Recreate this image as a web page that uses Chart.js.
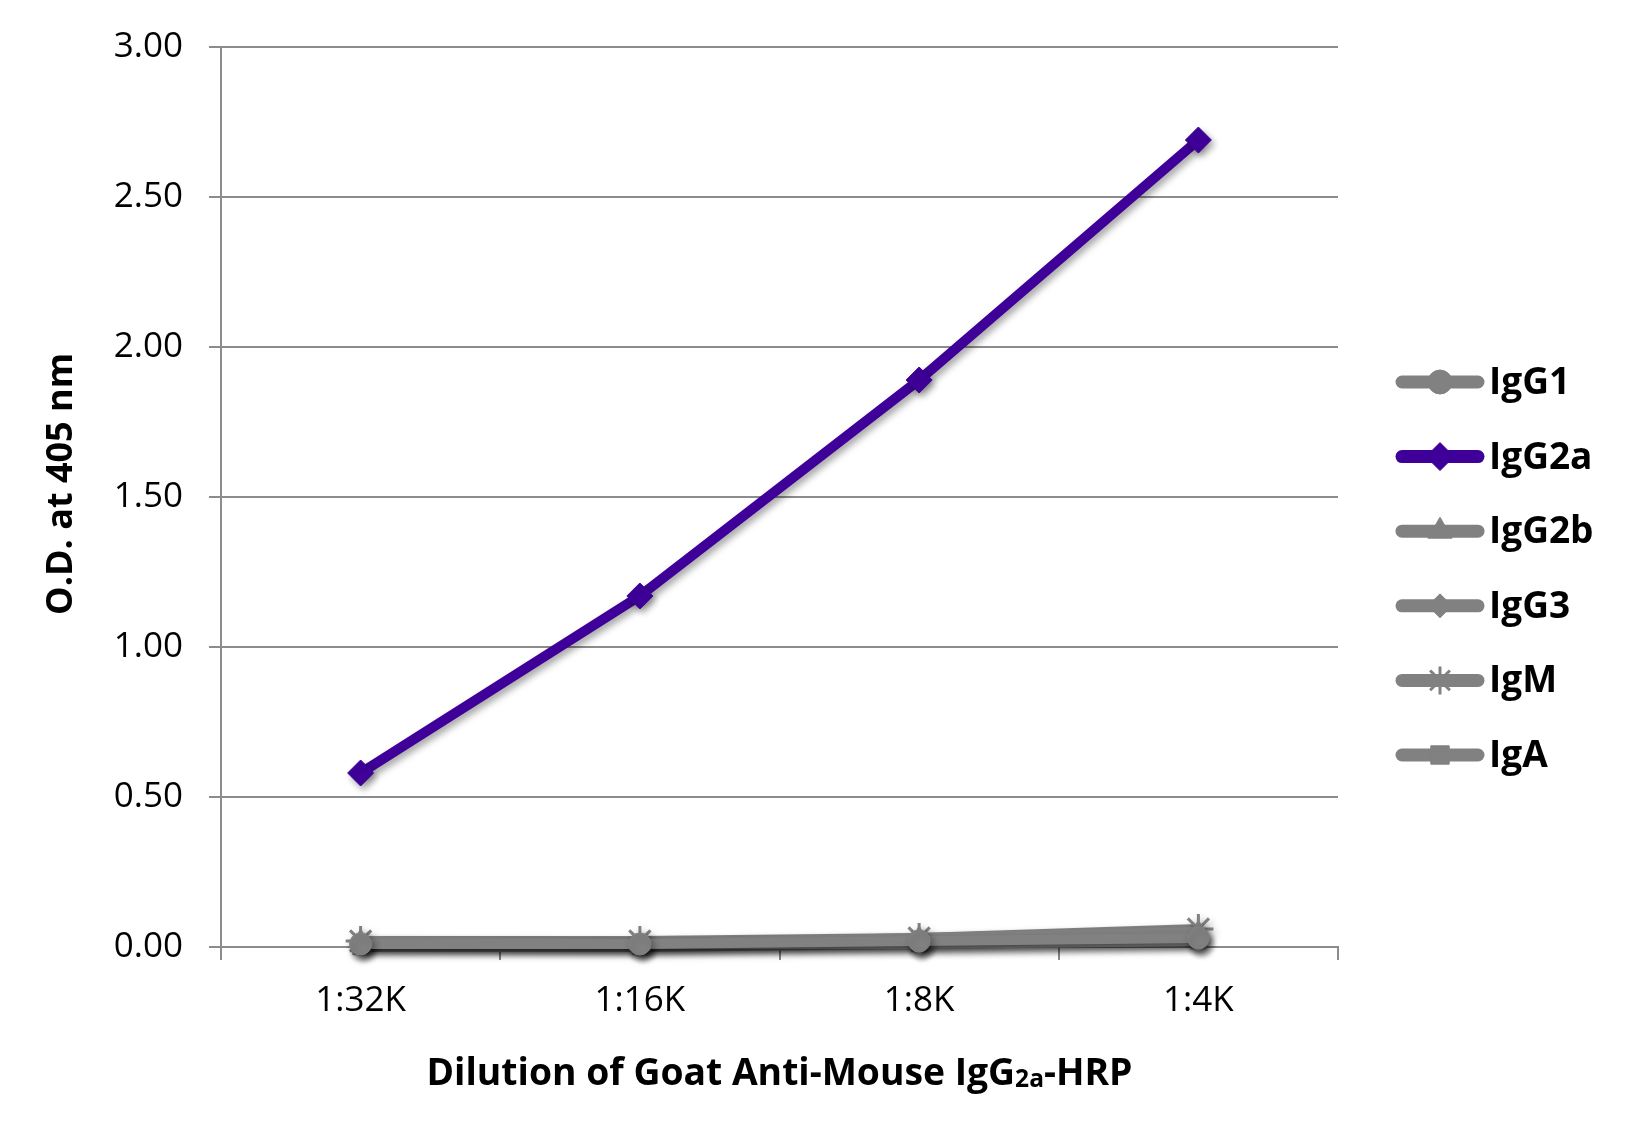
<!DOCTYPE html>
<html>
<head>
<meta charset="utf-8">
<title>Goat Anti-Mouse IgG2a-HRP</title>
<script src="https://cdn.jsdelivr.net/npm/chart.js@4.4.1/dist/chart.umd.min.js"></script>
<style>
  html, body { margin: 0; padding: 0; background: #fff; }
  #wrap { width: 1638px; height: 1134px; }
</style>
</head>
<body>
<div id="wrap"><canvas id="chart" width="1638" height="1134"></canvas></div>
<script>
// values
const dilutions = ['1:32K', '1:16K', '1:8K', '1:4K'];
const isotypes = ['IgG1', 'IgG2a', 'IgG2b', 'IgG3', 'IgM', 'IgA'];
const igG1 = [0.01, 0.01, 0.02, 0.03];
const igG2a = [0.58, 1.17, 1.89, 2.69];
const igG2b = [0.02, 0.01, 0.03, 0.05];
const igG3 = [0.01, 0.01, 0.01, 0.02];
const igM = [0.02, 0.02, 0.03, 0.06];
const igA = [0.00, 0.00, 0.01, 0.02];
const yTicks = [0, 0.5, 1, 1.5, 2, 2.5, 3];

const yTitle = 'O.D. at 405 nm';
const xTitleParts = ['Dilution of Goat Anti-Mouse IgG', '2a', '-HRP'];

const GRAY = '#818181';
const PURPLE = '#3f0099';
const AXIS = '#8c8c8c';
const FONT = '"Open Sans", "Noto Sans", sans-serif';

function series(label, data, color, style, radius) {
  return {
    label: label,
    data: data,
    borderColor: color,
    backgroundColor: color,
    borderWidth: 10,
    pointStyle: style,
    pointRadius: radius,
    pointHoverRadius: radius,
    pointBackgroundColor: color,
    pointBorderColor: color,
    pointBorderWidth: style === 'star' ? 3 : 1,
    tension: 0,
    clip: false
  };
}

// soft drop shadow behind lines and markers, as in the original
const dropShadow = {
  id: 'dropShadow',
  beforeDatasetsDraw(chart) {
    const c = chart.ctx;
    c.save();
    c.shadowColor = 'rgba(0,0,0,0.35)';
    c.shadowBlur = 7;
    c.shadowOffsetX = 3;
    c.shadowOffsetY = 4;
  },
  afterDatasetsDraw(chart) {
    chart.ctx.restore();
  }
};

// axis titles (x title has a subscript, so it is drawn by hand)
const axisTitles = {
  id: 'axisTitles',
  afterDraw(chart) {
    const ctx = chart.ctx;
    const area = chart.chartArea;

    ctx.save();
    ctx.fillStyle = '#000';
    ctx.translate(62, (area.top + area.bottom) / 2 - 13);
    ctx.rotate(-Math.PI / 2);
    ctx.font = 'bold 36px ' + FONT;
    ctx.textAlign = 'center';
    ctx.textBaseline = 'middle';
    ctx.fillText(yTitle, 0, 0);
    ctx.restore();

    const sizes = [38, 25, 38];
    const drops = [0, 2, 0];
    ctx.save();
    ctx.fillStyle = '#000';
    ctx.textBaseline = 'alphabetic';
    ctx.textAlign = 'left';
    let total = 0;
    const widths = xTitleParts.map((t, i) => {
      ctx.font = 'bold ' + sizes[i] + 'px ' + FONT;
      const w = ctx.measureText(t).width;
      total += w;
      return w;
    });
    const target = 706;
    const sx = Math.min(1, target / total);
    const cx = (area.left + area.right) / 2;
    ctx.translate(cx - total * sx / 2, 1085);
    ctx.scale(sx, 1);
    let x = 0;
    xTitleParts.forEach((t, i) => {
      ctx.font = 'bold ' + sizes[i] + 'px ' + FONT;
      ctx.fillText(t, x, drops[i]);
      x += widths[i];
    });
    ctx.restore();
  }
};

// legend on the right: thick line with the marker in the middle
const legendRadius = [12, 14, 14, 12, 14, 13];
const sideLegend = {
  id: 'sideLegend',
  afterDraw(chart) {
    const ctx = chart.ctx;
    chart.data.datasets.forEach((ds, i) => {
      const y = 382 + i * 74.6;
      ctx.save();
      ctx.strokeStyle = ds.borderColor;
      ctx.lineWidth = 13;
      ctx.lineCap = 'round';
      ctx.beginPath();
      ctx.moveTo(1402, y);
      ctx.lineTo(1478, y);
      ctx.stroke();
      ctx.fillStyle = ds.borderColor;
      ctx.strokeStyle = ds.borderColor;
      ctx.lineCap = 'butt';
      ctx.lineWidth = ds.pointStyle === 'star' ? 3 : 1;
      if (Chart.helpers && Chart.helpers.drawPoint) {
        Chart.helpers.drawPoint(ctx, {
          pointStyle: ds.pointStyle,
          radius: legendRadius[i],
          rotation: 0,
          borderWidth: ctx.lineWidth
        }, 1440, y);
      } else {
        ctx.beginPath();
        ctx.arc(1440, y, legendRadius[i], 0, Math.PI * 2);
        ctx.fill();
      }
      ctx.fillStyle = '#000';
      ctx.font = 'bold 37px ' + FONT;
      ctx.textAlign = 'left';
      ctx.textBaseline = 'alphabetic';
      ctx.fillText(ds.label, 1489, y + 12);
      ctx.restore();
    });
  }
};

new Chart(document.getElementById('chart').getContext('2d'), {
  type: 'line',
  data: {
    labels: dilutions,
    datasets: [
      series(isotypes[0], igG1, GRAY, 'circle', 11),
      series(isotypes[1], igG2a, PURPLE, 'rectRot', 13),
      series(isotypes[2], igG2b, GRAY, 'triangle', 12),
      series(isotypes[3], igG3, GRAY, 'rectRot', 11),
      series(isotypes[4], igM, GRAY, 'star', 15),
      series(isotypes[5], igA, GRAY, 'rect', 11)
    ]
  },
  options: {
    responsive: false,
    animation: false,
    devicePixelRatio: 1,
    layout: { padding: { top: 45, right: 300, bottom: 0, left: 0 } },
    plugins: {
      legend: { display: false },
      tooltip: { enabled: false },
      title: { display: false }
    },
    scales: {
      x: {
        type: 'category',
        offset: true,
        grid: {
          offset: true,
          drawOnChartArea: false,
          drawTicks: true,
          tickLength: 13,
          color: AXIS,
          lineWidth: 2
        },
        border: { display: true, color: AXIS, width: 2 },
        ticks: {
          color: '#000',
          padding: 20,
          font: { family: FONT, size: 35 }
        },
        afterFit(scale) { scale.height = 187; }
      },
      y: {
        min: 0,
        max: 3,
        afterBuildTicks(scale) {
          scale.ticks = yTicks.map(v => ({ value: v }));
        },
        grid: {
          drawTicks: true,
          tickLength: 12,
          color: AXIS,
          lineWidth: 2
        },
        border: { display: true, color: AXIS, width: 2 },
        ticks: {
          color: '#000',
          padding: 26,
          font: { family: FONT, size: 35 },
          callback: v => Number(v).toFixed(2)
        },
        afterFit(scale) { scale.width = 221; }
      }
    }
  },
  plugins: [dropShadow, axisTitles, sideLegend]
});
</script>
</body>
</html>
